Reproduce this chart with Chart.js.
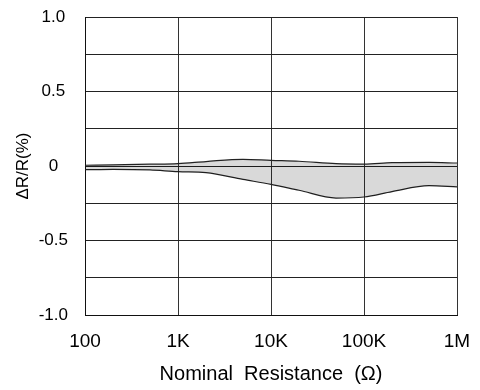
<!DOCTYPE html>
<html>
<head>
<meta charset="utf-8">
<script src="https://cdn.jsdelivr.net/npm/chart.js@4/dist/chart.umd.min.js"></script>
<style>
html,body{margin:0;padding:0;background:#fff;}
#wrap{width:480px;height:390px;}
</style>
</head>
<body>
<div id="wrap"><canvas id="c" width="480" height="390"></canvas></div>
<script>
// Nominal resistance (ohm)
const resistance = [100, 200, 500, 1000, 2000, 5000, 10000, 20000, 50000, 100000, 200000, 500000, 1000000];
// Upper and lower limits of ΔR/R (%)
const upperLimit = [0.005, 0.008, 0.012, 0.016, 0.03, 0.045, 0.038, 0.032, 0.016, 0.013, 0.022, 0.024, 0.02];
const lowerLimit = [-0.025, -0.022, -0.026, -0.038, -0.045, -0.09, -0.123, -0.163, -0.215, -0.208, -0.172, -0.132, -0.14];
// Axis ticks
const xTickValues = [100, 1000, 10000, 100000, 1000000];
const xTickLabels = ['100', '1K', '10K', '100K', '1M'];
const yTickValues = [1, 0.5, 0, -0.5, -1];
const yTickLabels = ['1.0', '0.5', '0', '-0.5', '-1.0'];

const FONT = '"Liberation Sans", Arial, Helvetica, sans-serif';

new Chart(document.getElementById('c'), {
  type: 'line',
  data: {
    datasets: [
      {
        label: 'upper',
        data: resistance.map((r, i) => ({x: r, y: upperLimit[i]})),
        borderColor: '#222',
        borderWidth: 1.2,
        backgroundColor: 'rgba(0,0,0,0.15)',
        fill: '+1',
        pointRadius: 0,
        cubicInterpolationMode: 'monotone'
      },
      {
        label: 'lower',
        data: resistance.map((r, i) => ({x: r, y: lowerLimit[i]})),
        borderColor: '#222',
        borderWidth: 1.2,
        fill: false,
        pointRadius: 0,
        cubicInterpolationMode: 'monotone'
      }
    ]
  },
  options: {
    responsive: false,
    animation: false,
    devicePixelRatio: 1,
    layout: {padding: {top: 17, right: 23, left: 0, bottom: 0}},
    plugins: {legend: {display: false}, tooltip: {enabled: false}},
    scales: {
      x: {
        type: 'logarithmic',
        min: 100,
        max: 1000000,
        afterBuildTicks: (s) => { s.ticks = xTickValues.map(v => ({value: v})); },
        afterFit: (s) => { s.height = 75; s.paddingLeft = 0; s.paddingRight = 0; },
        grid: {color: '#333', lineWidth: 1, drawTicks: false},
        border: {color: '#111', width: 1},
        ticks: {
          autoSkip: false, maxRotation: 0, padding: 15, color: '#000',
          font: {family: FONT, size: 19},
          callback: (v) => { const i = xTickValues.indexOf(v); return i >= 0 ? xTickLabels[i] : ''; }
        },
        title: {display: true, text: 'Nominal  Resistance  (Ω)', color: '#000',
          font: {family: FONT, size: 20}, padding: {top: 0, bottom: 4}}
      },
      y: {
        min: -1,
        max: 1,
        afterFit: (s) => { s.width = 85; s.paddingTop = 0; s.paddingBottom = 0; },
        grid: {color: '#222', lineWidth: 1, drawTicks: false},
        border: {color: '#111', width: 1},
        ticks: {
          stepSize: 0.25, autoSkip: false, padding: 17, crossAlign: 'center', color: '#000',
          font: {family: FONT, size: 17},
          callback: (v) => { const i = yTickValues.findIndex(t => Math.abs(t - v) < 1e-9); return i >= 0 ? yTickLabels[i] : ''; }
        },
        title: {display: true, text: 'ΔR/R(%)', color: '#000',
          font: {family: FONT, size: 17}, padding: {top: 13, bottom: 0}}
      }
    }
  }
});
</script>
</body>
</html>
